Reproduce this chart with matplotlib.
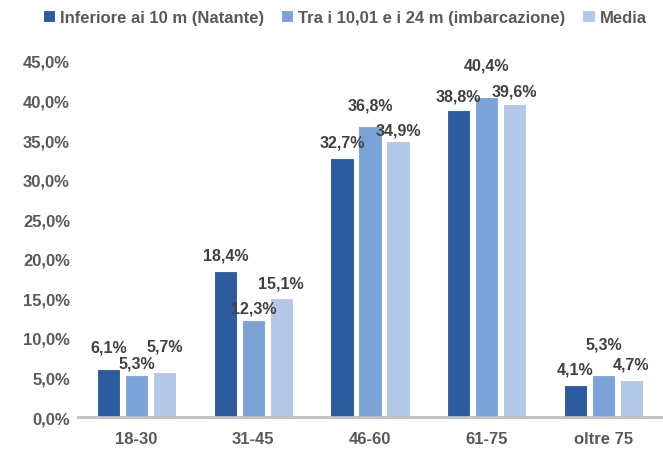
import numpy as np
import matplotlib.pyplot as plt

plt.rcParams['font.family'] = ['Liberation Sans', 'DejaVu Sans']
plt.rcParams['font.weight'] = 'bold'

fasce = ['18-30', '31-45', '46-60', '61-75', 'oltre 75']
natante = [6.1, 18.4, 32.7, 38.8, 4.1]
imbarcazione = [5.3, 12.3, 36.8, 40.4, 5.3]
media = [5.7, 15.1, 34.9, 39.6, 4.7]

serie = [
    ('Inferiore ai 10 m (Natante)', natante, '#2d5b9f'),
    ('Tra i 10,01 e i 24 m (imbarcazione)', imbarcazione, '#7ca3d7'),
    ('Media', media, '#b3c7e6'),
]

# distanza (pixel) tra cima della barra e linea di base dell'etichetta
gap_etichette = [
    [17, 12, 12, 9, 11],
    [8, 7, 16, 28, 27],
    [21, 10, 6, 8, 11],
]
LABEL = '#404040'
TICK = '#595959'

fig = plt.figure(figsize=(6.63, 4.52), dpi=100)
ax = fig.add_axes([0.118, 0.075, 0.88, 0.788])

x = np.arange(len(fasce))
larghezza = 0.2
passo = 0.24
for i, (nome, valori, colore) in enumerate(serie):
    pos = x + (i - 1) * passo
    ax.bar(pos, valori, width=larghezza, color=colore, edgecolor='white',
           linewidth=0.8, label=nome, zorder=2)
    for p, v, g in zip(pos, valori, gap_etichette[i]):
        ax.annotate(f'{v:.1f}%'.replace('.', ','), (p, v), xytext=(0, g),
                    textcoords='offset pixels', ha='center', va='baseline',
                    fontsize=11.5, color=LABEL, fontweight='bold')

ax.set_xlim(-0.5, len(fasce) - 0.5)
ax.set_ylim(0, 45)
ax.set_yticks(np.arange(0, 46, 5))
ax.set_yticklabels([f'{t:.1f}%'.replace('.', ',') for t in np.arange(0, 46, 5)])
ax.set_xticks(x)
ax.set_xticklabels(fasce)
ax.tick_params(axis='both', length=0, labelsize=12, labelcolor=TICK)
ax.tick_params(axis='x', pad=10)
ax.tick_params(axis='y', pad=6)
for s in ['top', 'right', 'left']:
    ax.spines[s].set_visible(False)
ax.spines['bottom'].set_color('#bfbfbf')
ax.spines['bottom'].set_linewidth(2)

fig.legend(loc='center', bbox_to_anchor=(0.52, 0.96), ncol=3, frameon=False,
           fontsize=12, labelcolor=TICK, handlelength=0.75, handleheight=0.75,
           handletextpad=0.3, columnspacing=1.0)

fig.savefig('out.png', dpi=100)
